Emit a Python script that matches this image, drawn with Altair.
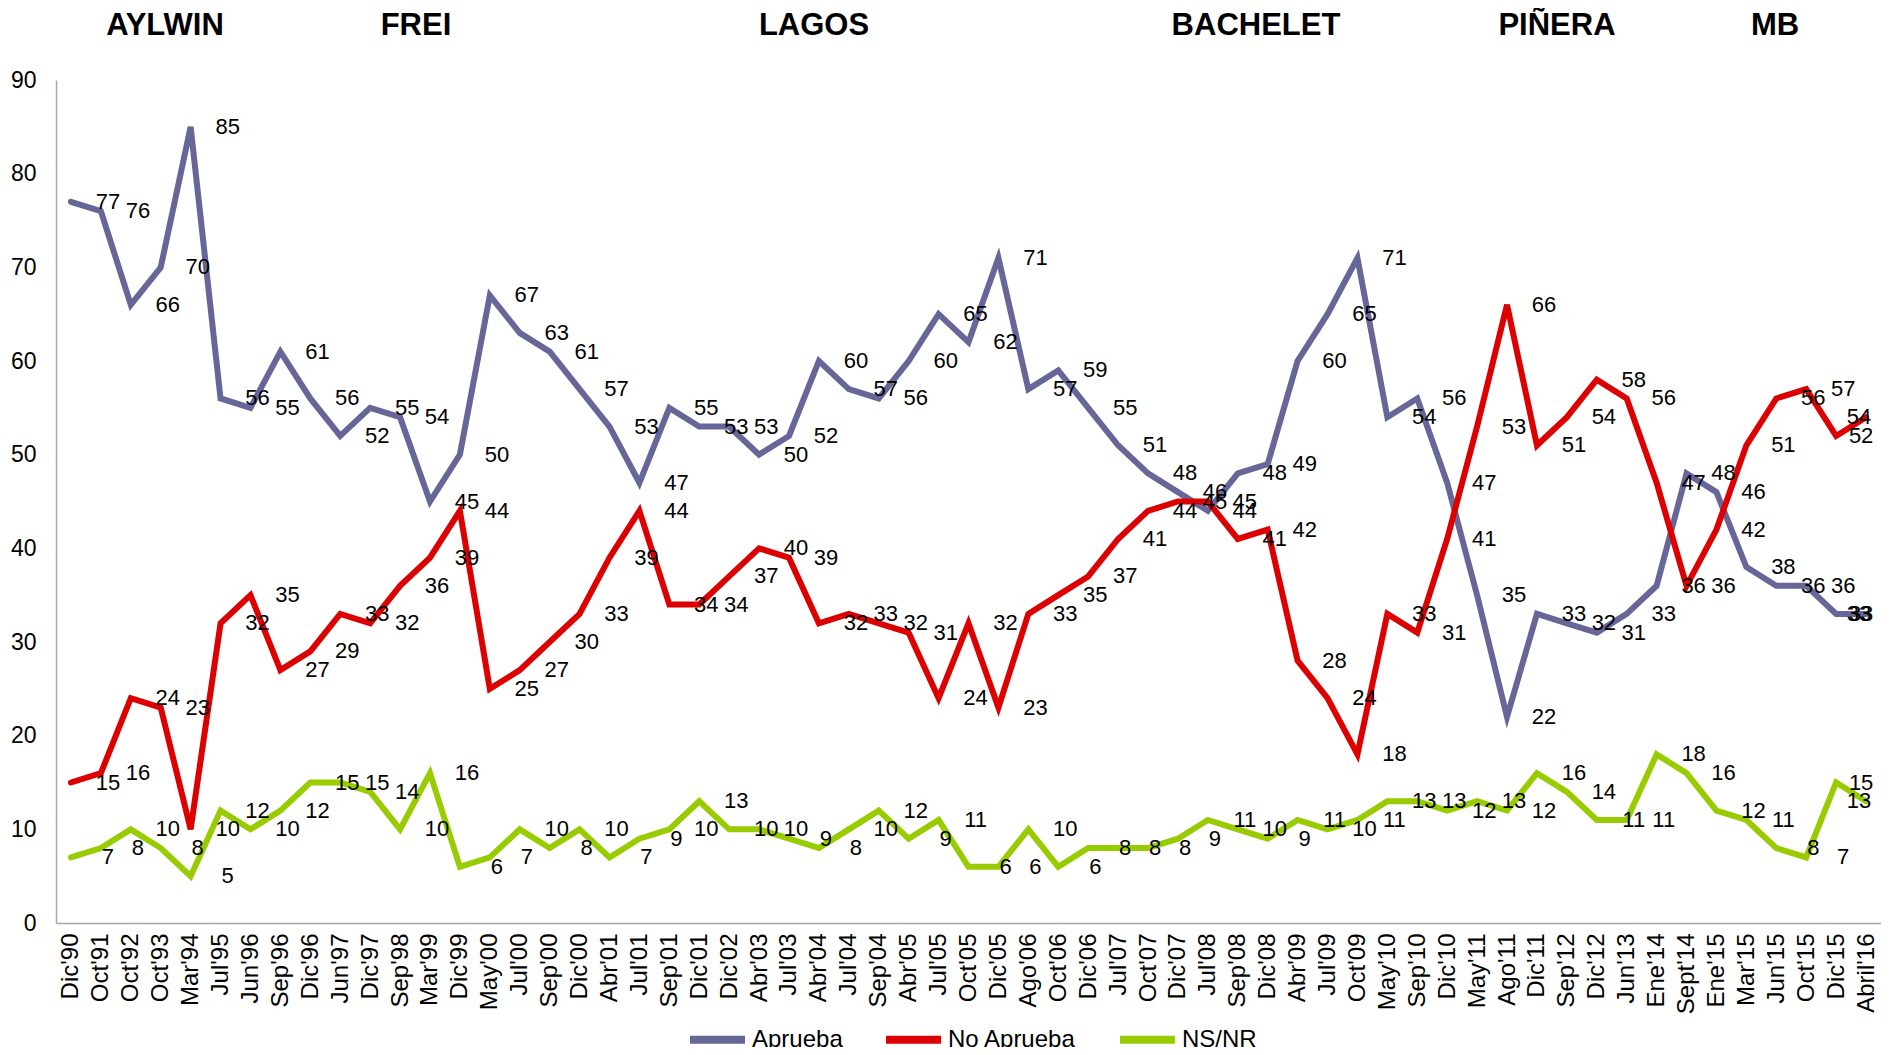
import altair as alt
import pandas as pd

categories = ["Dic'90", "Oct'91", "Oct'92", "Oct'93", "Mar'94", "Jul'95", "Jun'96", "Sep'96",
              "Dic'96", "Jun'97", "Dic'97", "Sep'98", "Mar'99", "Dic'99", "May'00", "Jul'00",
              "Sep'00", "Dic'00", "Abr'01", "Jul'01", "Sep'01", "Dic'01", "Dic'02", "Abr'03",
              "Jul'03", "Abr'04", "Jul'04", "Sep'04", "Abr'05", "Jul'05", "Oct'05", "Dic'05",
              "Ago'06", "Oct'06", "Dic'06", "Jul'07", "Oct'07", "Dic'07", "Jul'08", "Sep'08",
              "Dic'08", "Abr'09", "Jul'09", "Oct'09", "May'10", "Sep'10", "Dic'10", "May'11",
              "Ago'11", "Dic'11", "Sep'12", "Dic'12", "Jun'13", "Ene'14", "Sept'14", "Ene'15",
              "Mar'15", "Jun'15", "Oct'15", "Dic'15", "Abril'16"]

aprueba = [77, 76, 66, 70, 85, 56, 55, 61, 56, 52,
           55, 54, 45, 50, 67, 63, 61, 57, 53, 47,
           55, 53, 53, 50, 52, 60, 57, 56, 60, 65,
           62, 71, 57, 59, 55, 51, 48, 46, 44, 48,
           49, 60, 65, 71, 54, 56, 47, 35, 22, 33,
           32, 31, 33, 36, 48, 46, 38, 36, 36, 33, 33]

no_aprueba = [15, 16, 24, 23, 10, 32, 35, 27, 29, 33,
              32, 36, 39, 44, 25, 27, 30, 33, 39, 44,
              34, 34, 37, 40, 39, 32, 33, 32, 31, 24,
              32, 23, 33, 35, 37, 41, 44, 45, 45, 41,
              42, 28, 24, 18, 33, 31, 41, 53, 66, 51,
              54, 58, 56, 47, 36, 42, 51, 56, 57, 52, 54]

ns_nr = [7, 8, 10, 8, 5, 12, 10, 12, 15, 15,
         14, 10, 16, 6, 7, 10, 8, 10, 7, 9,
         10, 13, 10, 10, 9, 8, 10, 12, 9, 11,
         6, 6, 10, 6, 8, 8, 8, 9, 11, 10,
         9, 11, 10, 11, 13, 13, 12, 13, 12, 16,
         14, 11, 11, 18, 16, 12, 11, 8, 7, 15, 13]

series_names = ["Aprueba", "No Aprueba", "NS/NR"]
series_colors = ["#666699", "#DD0000", "#99CC00"]
presidents = ["AYLWIN", "FREI", "LAGOS", "BACHELET", "PIÑERA", "MB"]

rows = []
for i, c in enumerate(categories):
    for s, vals in zip(series_names, [aprueba, no_aprueba, ns_nr]):
        rows.append({"cat": c, "idx": i, "serie": s, "valor": vals[i]})
df = pd.DataFrame(rows)

FONT = "Liberation Sans"
n = len(categories)

x_axis = alt.Axis(title=None, labelAngle=-90, labelFontSize=24, labelFont=FONT,
                  labelColor="#000000", labelPadding=10, ticks=False,
                  domainColor="#A6A6A6", domainWidth=1.5, grid=False, labelOverlap=False)
y_axis = alt.Axis(title=None, values=list(range(0, 100, 10)), labelFontSize=23,
                  labelFont=FONT, labelColor="#000000", labelPadding=20,
                  ticks=False, domainColor="#A6A6A6", domainWidth=1.5, grid=False)
y_scale = alt.Scale(domain=[0, 90], nice=False)


def x_enc():
    return alt.X("cat:N", sort=categories, axis=x_axis)


def y_enc():
    return alt.Y("valor:Q", scale=y_scale, axis=y_axis)


base = alt.Chart(df)

lines = base.mark_line(strokeWidth=6, strokeCap="round", strokeJoin="miter").encode(
    x=x_enc(),
    y=y_enc(),
    color=alt.Color("serie:N", sort=series_names,
                    scale=alt.Scale(domain=series_names, range=series_colors),
                    legend=alt.Legend(title=None, orient="none", direction="horizontal",
                                      legendX=630, legendY=928, symbolType="stroke",
                                      symbolSize=3025, symbolStrokeWidth=8,
                                      labelFontSize=24, labelFont=FONT, labelColor="#000000",
                                      labelOffset=3, columnPadding=27, padding=0)),
    order=alt.Order("idx:Q"),
)

label_kw = dict(fontSize=22, font=FONT, color="#000000", align="center", baseline="middle")
labels_main = base.transform_filter(alt.datum.idx <= n - 3).mark_text(dx=37, **label_kw).encode(
    x=x_enc(), y=y_enc(), text="valor:Q")
labels_pen = base.transform_filter(alt.datum.idx == n - 2).mark_text(dx=25, **label_kw).encode(
    x=x_enc(), y=y_enc(), text="valor:Q")
labels_last = base.transform_filter(alt.datum.idx == n - 1).mark_text(dx=-7, **label_kw).encode(
    x=x_enc(), y=y_enc(), text="valor:Q")

name_px = [109, 360, 758, 1200, 1501, 1719]
name_layers = []
for name, px in zip(presidents, name_px):
    name_layers.append(
        alt.Chart(pd.DataFrame({"t": [name]})).mark_text(
            font=FONT, fontSize=31, fontWeight="bold", color="#000000",
            align="center", baseline="middle").encode(
            text="t:N", x=alt.value(px), y=alt.value(-54)))

chart = alt.layer(lines, labels_main, labels_pen, labels_last, *name_layers).properties(
    width=1825, height=843,
    autosize=alt.AutoSizeParams(type="none"),
    padding={"left": 48, "top": 72, "right": 0, "bottom": 124},
    background="#FFFFFF",
).configure_view(stroke=None)

chart.save("out.html", embed_options={"renderer": "svg", "actions": False})
